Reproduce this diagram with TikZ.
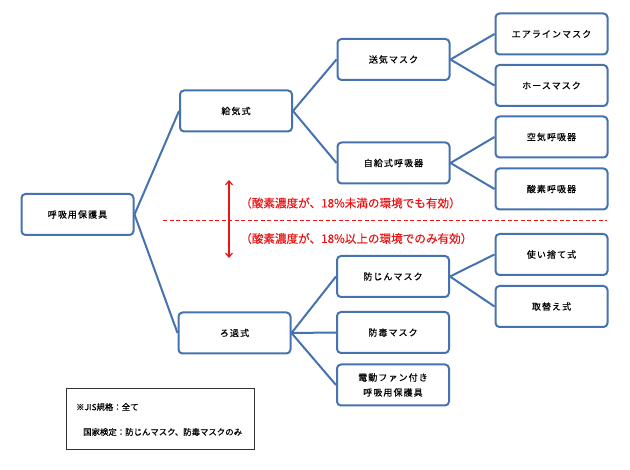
\documentclass[tikz,border=0pt]{standalone}
\usepackage{fontspec}
\setmainfont{Noto Sans CJK JP}[LetterSpace=12, FakeBold=0.6]
\newfontfamily\redfont{Noto Sans CJK JP}[FakeBold=0.3]
\newfontfamily\notefont{Noto Sans CJK JP}[FakeBold=0.5]
\usetikzlibrary{arrows.meta}
\definecolor{boxblue}{RGB}{70,114,176}
\definecolor{noteredc}{RGB}{235,20,20}
\definecolor{notegray}{RGB}{50,50,50}
\tikzset{
  box/.style={draw=boxblue, line width=2pt, rounded corners=4pt, fill=white,
    minimum width=112pt, minimum height=41pt, align=center, inner sep=1pt,
    font=\fontsize{9}{15}\selectfont},
  conn/.style={draw=boxblue, line width=2pt},
  redtext/.style={text=noteredc, font=\redfont\fontsize{11.6}{13}\selectfont, anchor=west, inner sep=0pt},
  notetext/.style={font=\notefont\fontsize{8.4}{10}\selectfont, anchor=west, inner sep=0pt},
  reddash/.style={color=noteredc, line width=1pt, dash pattern=on 4pt off 2.5pt}
}
\begin{document}
\begin{tikzpicture}[x=1pt,y=-1pt]
\useasboundingbox (0,0) rectangle (630,470);
\fill[white] (0,0) rectangle (630,470);
\node[box] (root) at (77.5,214.5) {呼吸用保護具};
\node[box] (kyuki) at (236,111) {給気式};
\node[box] (roka) at (234.5,333) {ろ過式};
\node[box] (soki) at (393.5,59.5) {送気マスク};
\node[box] (jikyu) at (393.5,163) {自給式呼吸器};
\node[box] (air) at (551.5,34) {エアラインマスク};
\node[box] (hose) at (551.5,85.5) {ホースマスク};
\node[box] (kuki) at (551.5,137) {空気呼吸器};
\node[box] (sanso) at (551.5,189) {酸素呼吸器};
\node[box] (bojin) at (393,276.5) {防じんマスク};
\node[box] (bodoku) at (393,332.5) {防毒マスク};
\node[box] (dendo) at (393,385) {電動ファン付き\\呼吸用保護具};
\node[box] (tsukai) at (551.5,254.5) {使い捨て式};
\node[box] (torikae) at (551.5,306.5) {取替え式};
\draw[conn] (root.east) -- (kyuki.west);
\draw[conn] (root.east) -- (roka.west);
\draw[conn] (kyuki.east) -- (soki.west);
\draw[conn] (kyuki.east) -- (jikyu.west);
\draw[conn] (soki.east) -- (air.west);
\draw[conn] (soki.east) -- (hose.west);
\draw[conn] (jikyu.east) -- (kuki.west);
\draw[conn] (jikyu.east) -- (sanso.west);
\draw[conn] (roka.east) -- (bojin.west);
\draw[conn] (roka.east) -- (bodoku.west);
\draw[conn] (roka.east) -- (dendo.west);
\draw[conn] (bojin.east) -- (tsukai.west);
\draw[conn] (bojin.east) -- (torikae.west);
% red annotations
\coordinate (dl) at (163,221);
\coordinate (dr) at (607,221);
\draw[reddash] (dl) -- (dr);
\coordinate (at) at (229,180);
\coordinate (ab) at (229,258);
\draw[draw=noteredc, line width=1.2pt, {Straight Barb[length=4pt,width=7pt]}-{Straight Barb[length=4pt,width=7pt]}] (at) -- (ab);
\node[redtext] (t1) at (240,203) {（酸素濃度が、18\%未満の環境でも有効）};
\node[redtext] (t2) at (240,238.5) {（酸素濃度が、18\%以上の環境でのみ有効）};
% note box
\draw[draw=notegray, line width=0.9pt] (66,388) rectangle (254,449);
\node[notetext] (n1) at (76,407) {※JIS規格：全て};
\node[notetext] (n2) at (83,432) {国家検定：防じんマスク、防毒マスクのみ};
\end{tikzpicture}
\end{document}
